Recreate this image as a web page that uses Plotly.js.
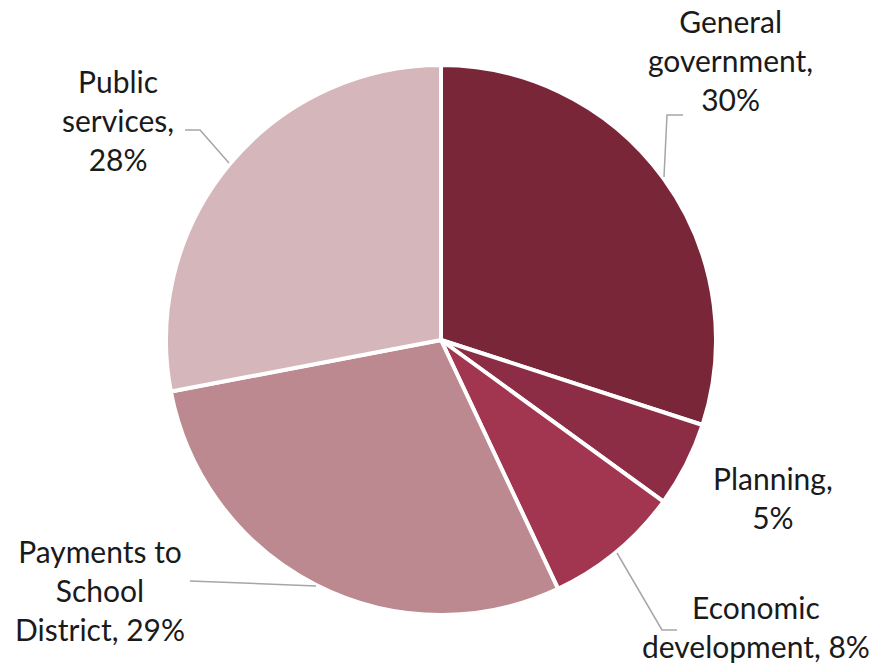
<!DOCTYPE html>
<html>
<head>
<meta charset="utf-8">
<script src="https://cdn.plot.ly/plotly-3.0.1.min.js"></script>
<style>html,body{margin:0;padding:0;background:#fff;}#chart{width:877px;height:667px;}</style>
</head>
<body>
<div id="chart"></div>
<script>
const categories = ["General government", "Planning", "Economic development", "Payments to School District", "Public services"];
const shares = [30, 5, 8, 29, 28];
const colors = ["#7A2639", "#8C2C45", "#A23550", "#BC8990", "#D5B7BB"];
const labelTexts = ["General<br>government,<br>30%", "Planning,<br>5%", "Economic<br>development, 8%", "Payments to<br>School<br>District, 29%", "Public<br>services,<br>28%"];

const W = 877, H = 667;
const px = x => x / W;
const py = y => 1 - y / H;

const labelPos = [[730, 60], [773, 497], [756, 626], [100, 590], [118, 120]];
const leaders = [
  [[664, 177], [667, 115], [683, 115]],
  null,
  [[617, 553], [662, 630], [677, 630]],
  [[316, 586], [190, 581]],
  [[229, 163], [200, 130], [185, 130]]
];

const annotations = labelTexts.map((t, i) => ({
  text: t, x: px(labelPos[i][0]), y: py(labelPos[i][1]), xref: 'paper', yref: 'paper',
  xanchor: 'center', yanchor: 'middle', showarrow: false, align: 'center',
  font: {family: 'Lato, "Open Sans", sans-serif', size: 30, color: '#1a1a1a'}
}));

const shapes = leaders.filter(l => l).map(pts => ({
  type: 'path', xref: 'paper', yref: 'paper',
  path: pts.map((p, j) => (j ? 'L' : 'M') + px(p[0]) + ',' + py(p[1])).join(' '),
  line: {color: '#A6A6A6', width: 1.5}
}));

const trace = {
  type: 'pie', labels: categories, values: shares, sort: false, direction: 'clockwise', rotation: 0,
  marker: {colors: colors, line: {color: '#ffffff', width: 4}},
  textinfo: 'none', hoverinfo: 'label+percent', showlegend: false,
  domain: {x: [px(166), px(716)], y: [py(615), py(65)]}
};

Plotly.newPlot('chart', [trace], {
  width: W, height: H, margin: {l: 0, r: 0, t: 0, b: 0},
  paper_bgcolor: '#ffffff', showlegend: false,
  annotations: annotations, shapes: shapes
}, {displayModeBar: false, staticPlot: true});
</script>
</body>
</html>
